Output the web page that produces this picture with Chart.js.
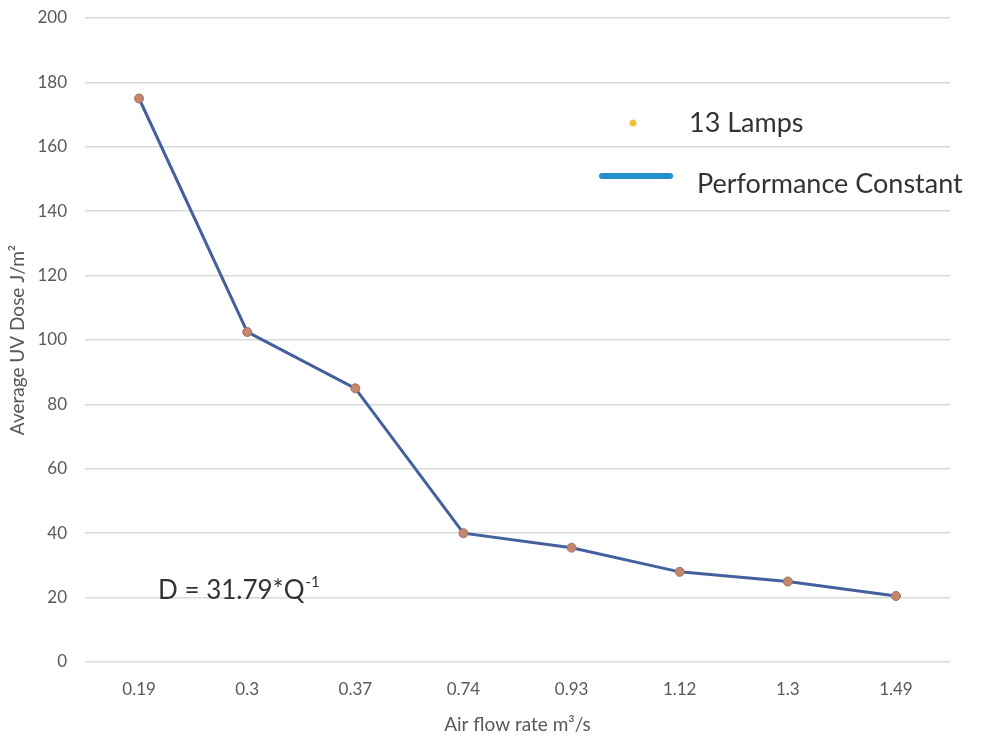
<!DOCTYPE html>
<html>
<head>
<meta charset="utf-8">
<title>Average UV Dose vs Air flow rate</title>
<script src="https://cdn.jsdelivr.net/npm/chart.js@4"></script>
<style>
  html, body { margin: 0; padding: 0; background: #fff; }
  #wrap { position: relative; width: 981px; height: 736px; }
</style>
</head>
<body>
<div id="wrap"><canvas id="doseChart" width="981" height="736"></canvas></div>
<script>
// data
const flowRates = ['0.19', '0.3', '0.37', '0.74', '0.93', '1.12', '1.3', '1.49'];
const lampDose = [175, 102.5, 85, 40, 35.5, 28, 25, 20.5];
const yTicks = [0, 20, 40, 60, 80, 100, 120, 140, 160, 180, 200];

const seriesName = '13 Lamps';
const lineName = 'Performance Constant';
const equationMain = 'D = 31.79*Q';
const equationExp = '-1';

const FONT = 'Lato, "Open Sans", sans-serif';
const GREY = '#595959';

// legend in the upper right and the fitted equation, drawn on the canvas
const overlayPlugin = {
  id: 'overlay',
  afterDraw(chart) {
    const ctx = chart.ctx;
    const area = chart.chartArea;
    ctx.save();

    // legend: yellow dot + label
    const lx = area.left + 548;
    ctx.fillStyle = '#efc23f';
    ctx.beginPath();
    ctx.arc(lx, area.top + 105, 3.5, 0, Math.PI * 2);
    ctx.fill();

    ctx.fillStyle = '#333333';
    ctx.font = '27px ' + FONT;
    ctx.textBaseline = 'middle';
    ctx.fillText(seriesName, area.left + 604, area.top + 105);

    // legend: blue line + label
    ctx.strokeStyle = '#2490cf';
    ctx.lineWidth = 6;
    ctx.lineCap = 'round';
    ctx.beginPath();
    ctx.moveTo(area.left + 517, area.top + 158);
    ctx.lineTo(area.left + 585, area.top + 158);
    ctx.stroke();

    ctx.font = '27px ' + FONT;
    ctx.fillText(lineName, area.left + 612, area.top + 166);

    // equation
    ctx.font = '26px ' + FONT;
    ctx.textBaseline = 'alphabetic';
    const ex = area.left + 73;
    const ey = area.top + 581;
    ctx.fillText(equationMain, ex, ey);
    const w = ctx.measureText(equationMain).width;
    ctx.font = '15px ' + FONT;
    ctx.fillText(equationExp, ex + w + 1, ey - 12);

    ctx.restore();
  }
};

new Chart(document.getElementById('doseChart'), {
  type: 'line',
  data: {
    labels: flowRates,
    datasets: [{
      label: seriesName,
      data: lampDose,
      borderColor: '#44619d',
      borderWidth: 3,
      tension: 0,
      pointRadius: 4.5,
      pointBackgroundColor: '#c3866e',
      pointBorderColor: '#a7705d',
      pointBorderWidth: 1
    }]
  },
  options: {
    responsive: false,
    animation: false,
    layout: { padding: { left: 6, right: 31, top: 18, bottom: 0 } },
    plugins: {
      legend: { display: false },
      tooltip: { enabled: false }
    },
    scales: {
      x: {
        offset: true,
        grid: { display: false, drawTicks: false },
        border: { display: false },
        ticks: { color: GREY, font: { family: FONT, size: 17 }, padding: 17 },
        title: {
          display: true,
          text: 'Air flow rate m³/s',
          color: GREY,
          font: { family: FONT, size: 19 },
          padding: { top: 10, bottom: 0 }
        },
        afterFit(scale) { scale.height = 74; }
      },
      y: {
        min: 0,
        max: 200,
        afterBuildTicks(scale) { scale.ticks = yTicks.map(v => ({ value: v })); },
        // invisible tick marks give the label gap without padding the top
        grid: { color: '#d9d9d9', lineWidth: 1.5, drawTicks: true, tickLength: 18, tickColor: 'rgba(0,0,0,0)' },
        border: { display: false },
        ticks: { color: GREY, font: { family: FONT, size: 17 }, padding: 0 },
        title: {
          display: true,
          text: 'Average UV Dose J/m²',
          color: GREY,
          font: { family: FONT, size: 19 },
          padding: { top: 0, bottom: 2 }
        },
        afterFit(scale) { scale.width = 79; }
      }
    }
  },
  plugins: [overlayPlugin]
});
</script>
</body>
</html>
